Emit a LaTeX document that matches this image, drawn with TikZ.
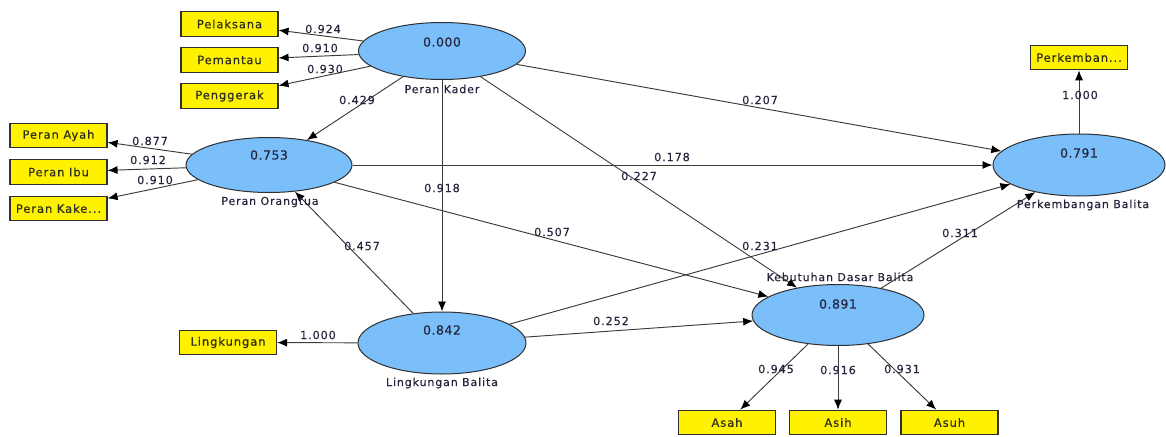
\documentclass[tikz,border=0pt]{standalone}
\usepackage{fontspec}
\setmainfont{DejaVu Sans}
\newfontfamily\lblfont[LetterSpace=8,FakeBold=0.4]{DejaVu Sans}
\newfontfamily\valfont[LetterSpace=4,FakeBold=0.4]{DejaVu Sans}
\usetikzlibrary{shapes.geometric,arrows.meta}
\definecolor{lvblue}{HTML}{7ABEFA}
\definecolor{edgegray}{HTML}{303030}
\definecolor{linegray}{HTML}{3C3C3C}
\definecolor{txt}{HTML}{24243C}
\definecolor{boxtxt}{HTML}{2E2E1C}
\begin{document}
\begin{tikzpicture}[x=1pt,y=-1pt,
  lv/.style={ellipse, draw=edgegray, fill=lvblue, line width=1pt, inner sep=0pt},
  mv/.style={rectangle, draw=edgegray, fill=yellow, line width=1.1pt, minimum width=97pt, minimum height=24.5pt, inner sep=0pt, text=boxtxt, font=\lblfont\fontsize{11.5}{13}\selectfont},
  val/.style={text=txt, inner sep=0pt, font=\valfont\fontsize{12.5}{14}\selectfont},
  lvname/.style={text=txt, inner sep=0pt, font=\lblfont\fontsize{11}{13}\selectfont},
  coef/.style={text=txt, inner sep=0pt, font=\lblfont\fontsize{11.2}{13}\selectfont},
  arr/.style={draw=linegray, line width=0.95pt, -{Latex[length=10pt,width=8pt,fill=black,color=black]}},
]
\useasboundingbox (0,0) rectangle (1166,436);

% latent variables
\node[lv, minimum width=167pt, minimum height=57pt] (kader) at (442,51) {};
\node[lv, minimum width=166pt, minimum height=55pt] (orangtua) at (269,165) {};
\node[lv, minimum width=172pt, minimum height=62pt] (perkembangan) at (1079,165) {};
\node[lv, minimum width=168pt, minimum height=62pt] (lingkungan) at (442,343) {};
\node[lv, minimum width=172pt, minimum height=61pt] (kebutuhan) at (838,315) {};

% indicators
\node[mv] (pelaksana) at (229.5,24) {Pelaksana};
\node[mv] (pemantau) at (229.5,60) {Pemantau};
\node[mv] (penggerak) at (229.5,96) {Penggerak};
\node[mv] (ayah) at (58.5,135.5) {Peran Ayah};
\node[mv] (ibu) at (58.5,172) {Peran Ibu};
\node[mv] (kake) at (58.5,208.5) {Peran Kake...};
\node[mv] (perkind) at (1079,57.5) {Perkemban...};
\node[mv] (lingind) at (228,342.5) {Lingkungan};
\node[mv] (asah) at (727,422.5) {Asah};
\node[mv] (asih) at (838,422.5) {Asih};
\node[mv] (asuh) at (949.5,422.5) {Asuh};

% structural paths
\draw[arr] (kader) -- (orangtua);
\draw[arr] (kader) -- (lingkungan);
\draw[arr] (kader) -- (perkembangan);
\draw[arr] (kader) -- (kebutuhan);
\draw[arr] (orangtua) -- (perkembangan);
\draw[arr] (orangtua) -- (kebutuhan);
\draw[arr] (lingkungan) -- (orangtua);
\draw[arr] (lingkungan) -- (kebutuhan);
\draw[arr] (lingkungan) -- (perkembangan);
\draw[arr] (kebutuhan) -- (perkembangan);

% measurement paths
\draw[arr] (kader) -- (pelaksana);
\draw[arr] (kader) -- (pemantau);
\draw[arr] (kader) -- (penggerak);
\draw[arr] (orangtua) -- (ayah);
\draw[arr] (orangtua) -- (ibu);
\draw[arr] (orangtua) -- (kake);
\draw[arr] (perkembangan) -- (perkind);
\draw[arr] (lingkungan) -- (lingind);
\draw[arr] (kebutuhan) -- (asah);
\draw[arr] (kebutuhan) -- (asih);
\draw[arr] (kebutuhan) -- (asuh);

% values
\node[val] (v1) at (442,42) {0.000};
\node[val] (v2) at (269,155) {0.753};
\node[val] (v3) at (1079,153) {0.791};
\node[val] (v4) at (442,330) {0.842};
\node[val] (v5) at (838,304) {0.891};

% names
\node[lvname] (n1) at (442,89) {Peran Kader};
\node[lvname] (n2) at (270,202) {Peran Orangtua};
\node[lvname] (n3) at (1083,205) {Perkembangan Balita};
\node[lvname] (n4) at (442,383) {Lingkungan Balita};
\node[lvname] (n5) at (840,277) {Kebutuhan Dasar Balita};

% coefficients
\node[coef] (c1) at (323,29) {0.924};
\node[coef] (c2) at (320,48) {0.910};
\node[coef] (c3) at (325,69) {0.930};
\node[coef] (c4) at (357,100) {0.429};
\node[coef] (c5) at (150,141) {0.877};
\node[coef] (c6) at (148,160) {0.912};
\node[coef] (c7) at (155,180) {0.910};
\node[coef] (c8) at (442,188) {0.918};
\node[coef] (c9) at (760,100) {0.207};
\node[coef] (c10) at (672,157) {0.178};
\node[coef] (c11) at (639,176) {0.227};
\node[coef] (c12) at (552,232) {0.507};
\node[coef] (c13) at (760,246) {0.231};
\node[coef] (c14) at (362,246) {0.457};
\node[coef] (c15) at (960,233) {0.311};
\node[coef] (c16) at (1080,95) {1.000};
\node[coef] (c17) at (318,335) {1.000};
\node[coef] (c18) at (611,321) {0.252};
\node[coef] (c19) at (776,369) {0.945};
\node[coef] (c20) at (838,370) {0.916};
\node[coef] (c21) at (902,369) {0.931};
\end{tikzpicture}
\end{document}
